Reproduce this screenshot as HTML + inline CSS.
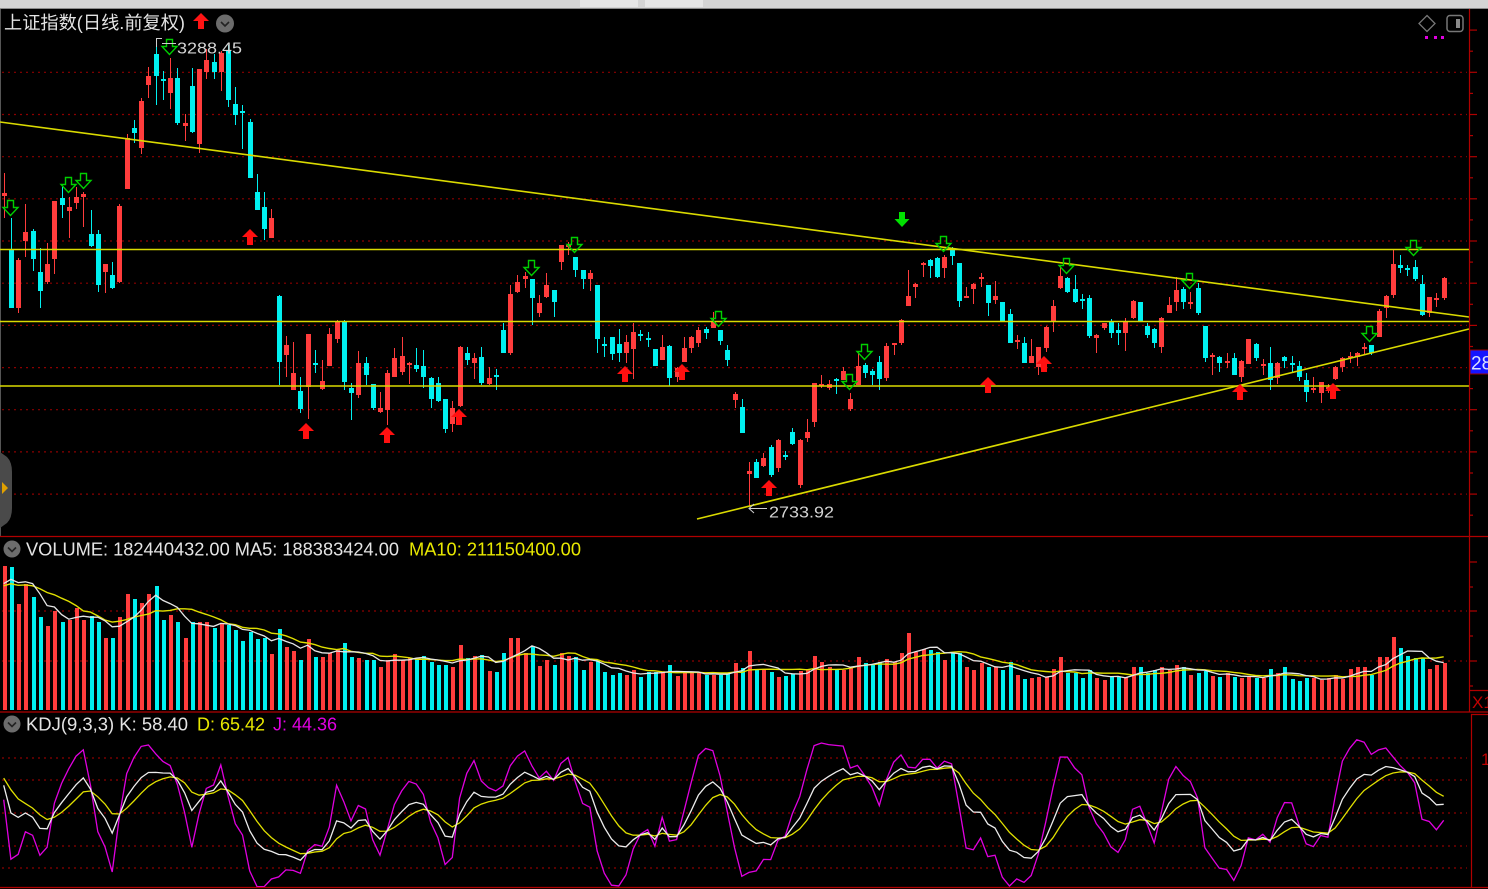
<!DOCTYPE html>
<html><head><meta charset="utf-8"><style>
html,body{margin:0;padding:0;background:#000;overflow:hidden}
svg{display:block}
text{font-family:"Liberation Sans","Noto Sans CJK SC",sans-serif}
</style></head><body>
<svg id="s" width="1488" height="889" viewBox="0 0 1488 889" xmlns="http://www.w3.org/2000/svg">
<defs>
<clipPath id="kc"><rect x="0" y="713" width="1469" height="174"/></clipPath>
<clipPath id="mc"><rect x="0" y="9" width="1469" height="527"/></clipPath>
</defs>
<rect width="1488" height="889" fill="#000"/>
<!-- top bar -->
<rect x="0" y="0" width="1488" height="8" fill="#d4d4d4"/>
<rect x="580" y="0" width="58" height="7" fill="#e6e6e6"/>
<rect x="645" y="0" width="58" height="7" fill="#e6e6e6"/>
<line x1="0" y1="8.5" x2="1488" y2="8.5" stroke="#8a8a8a" stroke-width="1"/>
<line x1="0.5" y1="9" x2="0.5" y2="536" stroke="#555" stroke-width="1"/>

<g id="grid" stroke="#8c0000" stroke-width="1.2" stroke-dasharray="2 4"></g>
<g id="dyn"></g>

<!-- axes and separators -->
<g stroke="#b00000" stroke-width="1.2" fill="none">
<line x1="1469.5" y1="9" x2="1469.5" y2="712"/>
<line x1="1471.5" y1="714" x2="1471.5" y2="887"/>
<line x1="0" y1="536.5" x2="1488" y2="536.5"/>
<line x1="0" y1="712" x2="1488" y2="712"/>
<line x1="1471" y1="714.5" x2="1488" y2="714.5"/>
<line x1="0" y1="887.5" x2="1488" y2="887.5"/>
<line x1="1469" y1="690.5" x2="1488" y2="690.5"/>
</g>
<g id="ticks" stroke="#b00000" stroke-width="1.2"></g>

<!-- left tab -->
<path d="M0,452 L7,457 Q12,462 12,472 L12,508 Q12,518 7,523 L0,528 Z" fill="#4a4a4a"/>
<path d="M2,482 L8,488 L2,494 Z" fill="#e0a000"/>

<!-- header -->
<text x="4" y="29" font-size="18" fill="#e4e4e4" textLength="181" lengthAdjust="spacingAndGlyphs">上证指数(日线.前复权)</text>
<path d="M201,13 L209,21 L204,21 L204,29 L198,29 L198,21 L193,21 Z" fill="#ff1414"/>
<circle cx="225" cy="23.5" r="9" fill="#6c6c6c"/>
<polyline points="221,22 225,26 229,22" fill="none" stroke="#222" stroke-width="1.6"/>

<!-- top right icons -->
<path d="M1427,15.5 L1435,23.5 L1427,31.5 L1419,23.5 Z" fill="none" stroke="#777" stroke-width="1.3"/>
<rect x="1447" y="15.5" width="16" height="16" rx="3" fill="none" stroke="#777" stroke-width="1.5"/>
<rect x="1456" y="19" width="4" height="9" fill="#8a8a8a"/>
<rect x="1425" y="36" width="3" height="3" fill="#e000e0"/>
<rect x="1434" y="36" width="3" height="3" fill="#e000e0"/>
<rect x="1441" y="36" width="3" height="3" fill="#e000e0"/>

<!-- price labels -->
<g stroke="#cfcfcf" stroke-width="1" fill="none">
<polyline points="156.5,47 156.5,38.5 162,38.5"/>
<line x1="162" y1="43.5" x2="176" y2="43.5"/>
<line x1="749" y1="508.5" x2="767" y2="508.5"/>
<polyline points="754,504 749,508.5 754,513"/>
</g>
<text x="177" y="53.5" font-size="16" fill="#d4d4d4" textLength="65" lengthAdjust="spacingAndGlyphs">3288.45</text>
<text x="769" y="517.5" font-size="16" fill="#d4d4d4" textLength="65" lengthAdjust="spacingAndGlyphs">2733.92</text>

<!-- right 28 label -->
<rect x="1470" y="350" width="19" height="24" fill="#1414ff" stroke="#9a0000" stroke-width="1"/>
<text x="1471" y="369.5" font-size="19" fill="#d8e0ff">28</text>
<text x="1472" y="708" font-size="17" fill="#c00000">X1</text>
<text x="1481" y="765" font-size="17" fill="#c00000">100</text>

<!-- volume title -->
<circle cx="12" cy="549" r="8.5" fill="#6c6c6c"/>
<polyline points="8,547.5 12,551.5 16,547.5" fill="none" stroke="#222" stroke-width="1.6"/>
<text x="26" y="555.5" font-size="18" fill="#e4e4e4" textLength="373" lengthAdjust="spacingAndGlyphs">VOLUME: 182440432.00 MA5: 188383424.00</text>
<text x="409" y="555.5" font-size="18" fill="#e8e800" textLength="172" lengthAdjust="spacingAndGlyphs">MA10: 211150400.00</text>

<!-- kdj title -->
<circle cx="12" cy="724" r="8.5" fill="#6c6c6c"/>
<polyline points="8,722.5 12,726.5 16,722.5" fill="none" stroke="#222" stroke-width="1.6"/>
<text x="26" y="730.5" font-size="18" fill="#e4e4e4" textLength="162" lengthAdjust="spacingAndGlyphs">KDJ(9,3,3) K: 58.40</text>
<text x="197" y="730.5" font-size="18" fill="#e8e800" textLength="68" lengthAdjust="spacingAndGlyphs">D: 65.42</text>
<text x="273" y="730.5" font-size="18" fill="#e000e0" textLength="64" lengthAdjust="spacingAndGlyphs">J: 44.36</text>
</svg>
<script>
(function(){
var C=[
[1,193,196,173,218],[0,249,308,218,308],[1,260,308,258,313],[1,232,241,204,257],[0,231,259,229,271],[0,272,291,248,308],[1,264,282,243,284],[1,201,259,201,274],[0,198,205,187,218],[1,207,211,197,238],
[1,197,203,187,209],[1,194,197,192,227],[0,234,246,210,247],[0,234,285,230,292],[1,264,272,264,293],[0,275,288,262,289],[1,206,282,204,283],[1,138,189,134,189],[0,128,133,120,143],[1,101,148,98,154],
[1,76,85,67,98],[0,54,76,44,105],[0,79,81,71,100],[1,78,93,58,109],[0,78,123,68,125],[1,123,126,114,141],[0,86,132,68,133],[1,69,144,69,153],[1,60,72,49,79],[0,62,72,54,79],
[1,53,72,51,91],[0,50,100,45,107],[0,104,115,87,125],[0,111,113,105,149],[0,122,178,119,178],[0,192,210,174,210],[0,207,229,192,240],[1,218,238,209,238],[0,296,362,295,385],[1,345,355,336,377],
[1,373,390,342,390],[0,391,409,377,413],[1,334,387,334,419],[0,363,365,350,373],[1,381,389,360,390],[1,334,366,328,366],[1,321,339,320,343],[0,322,382,320,390],[0,388,393,383,420],[1,363,395,351,398],
[0,363,375,357,385],[0,384,408,384,410],[1,408,412,392,413],[1,373,410,370,425],[1,358,377,348,377],[1,356,372,337,375],[1,363,365,362,384],[0,365,369,348,372],[0,366,377,350,388],[0,378,399,377,408],
[0,383,401,377,402],[0,399,429,399,433],[1,408,424,401,432],[1,347,406,346,407],[0,353,360,347,365],[1,358,363,353,379],[0,357,383,347,385],[1,378,384,367,385],[0,375,377,369,390],[0,330,353,323,353],
[1,294,353,285,355],[1,282,292,275,293],[1,276,279,272,288],[0,279,298,279,325],[1,303,313,295,317],[1,285,297,273,298],[0,290,302,290,317],[1,245,262,245,270],[1,245,247,242,255],[0,257,270,257,277],
[0,270,279,270,289],[1,273,279,270,291],[0,285,339,285,353],[0,344,346,337,357],[0,337,354,337,360],[0,344,353,329,362],[1,342,353,335,363],[1,332,349,323,379],[0,334,336,330,341],[0,338,340,332,347],
[0,349,366,349,366],[1,347,360,335,360],[0,346,378,345,386],[1,368,377,367,382],[1,348,362,337,362],[1,337,348,336,353],[1,330,343,327,347],[0,329,333,327,339],[1,322,328,312,328],[0,330,341,330,345],
[0,350,360,345,366],[1,394,400,392,408],[0,407,433,399,433],[1,471,474,462,507],[0,462,478,459,478],[1,458,466,453,467],[0,447,475,445,477],[1,440,468,439,472],[0,455,457,451,460],[0,432,444,428,445],
[1,440,485,439,488],[1,432,438,419,442],[1,383,422,383,427],[1,384,386,375,388],[1,384,388,380,390],[0,379,381,378,394],[1,371,380,367,380],[1,399,409,393,411],[1,366,385,353,385],[0,365,373,363,378],
[0,371,375,369,385],[0,362,379,356,390],[1,346,378,343,381],[1,343,345,343,355],[1,320,343,319,345],[1,296,306,270,306],[1,284,287,283,298],[1,263,265,262,277],[0,260,266,259,278],[0,258,277,257,278],
[1,257,268,255,278],[0,249,256,247,265],[0,263,301,263,307],[1,296,298,287,298],[1,284,289,283,304],[1,277,279,273,287],[0,285,303,285,316],[1,296,300,281,304],[0,302,321,302,321],[0,314,343,309,343],
[1,340,342,335,349],[0,343,363,337,363],[1,356,363,339,363],[1,347,367,347,375],[1,327,348,326,352],[1,306,321,300,332],[1,276,288,267,289],[0,278,292,277,293],[0,289,302,275,303],[0,299,301,294,309],
[0,298,336,295,338],[1,335,338,334,353],[1,323,328,323,330],[0,321,333,319,338],[0,330,333,323,345],[1,322,333,318,351],[1,301,318,300,319],[0,302,322,302,322],[0,326,335,323,338],[0,329,343,328,348],
[1,318,347,317,353],[1,305,313,297,313],[1,290,302,277,311],[0,289,302,287,309],[1,302,304,292,309],[0,288,313,283,315],[0,326,358,326,362],[1,355,357,353,375],[0,357,363,356,372],[1,361,363,353,368],
[0,358,375,353,375],[1,361,377,360,382],[1,339,364,339,364],[0,344,358,343,361],[1,364,366,359,375],[0,363,380,347,390],[1,363,378,362,384],[0,357,361,356,368],[0,363,365,356,372],[0,366,377,361,381],
[0,380,392,373,402],[1,388,390,377,393],[1,382,393,382,403],[1,387,389,384,393],[1,367,379,366,380],[1,358,367,357,372],[1,356,358,352,363],[1,353,357,352,366],[1,347,349,343,355],[0,345,353,345,355],
[1,311,337,309,337],[1,296,308,295,318],[1,264,295,250,298],[0,265,268,255,273],[0,268,270,265,276],[0,267,279,260,281],[0,284,315,275,316],[1,297,313,297,317],[1,298,300,293,307],[1,278,298,277,300]
];
var V=[566,567,604,584,597,617,626,611,622,620,608,620,616,622,638,638,617,594,599,603,594,586,620,615,622,638,622,622,
622,628,623,625,630,641,632,639,638,654,
629,647,651,660,639,657,657,653,649,643,
657,658,660,660,667,660,654,660,658,659,
656,662,665,665,667,645,658,656,655,671,
672,653,638,638,653,647,666,660,665,653,
656,657,670,662,660,672,675,673,675,670,
677,672,672,672,665,676,673,673,673,675,
675,675,673,663,668,651,670,670,672,677,
676,674,671,669,656,662,667,670,670,667,
657,663,665,662,659,662,653,633,652,649,
650,652,660,653,653,667,670,663,667,667,
670,662,675,679,678,677,677,669,657,673,
673,678,670,678,680,677,677,677,667,667,
673,670,667,670,665,667,675,673,671,676,
677,673,677,678,677,678,678,669,673,667,
679,681,678,678,680,678,675,679,669,667,
667,675,657,657,637,648,656,658,658,669,
665,663];
var RED="#ff3c3c",CY="#00f0f0";
function X(i){return 3.7+7.236*i;}
var N=C.length,o="";
// grid
var g="";
for(var k=0;k<=10;k++){var y=(72.3+42.18*k).toFixed(1);g+='<line x1="2" y1="'+y+'" x2="1467" y2="'+y+'"/>';}
[611,661].forEach(function(y){g+='<line x1="2" y1="'+y+'" x2="1467" y2="'+y+'"/>';});
[758,780,813,846,868].forEach(function(y){g+='<line x1="2" y1="'+y+'" x2="1467" y2="'+y+'"/>';});
document.getElementById("grid").innerHTML=g;
// ticks
var t="";
for(var k=-1;k<=10;k++){var y=72.3+42.18*k;if(y>10)t+='<line x1="1469" y1="'+y.toFixed(1)+'" x2="1477" y2="'+y.toFixed(1)+'"/>';var m=y+21.09;if(m<536)t+='<line x1="1469" y1="'+m.toFixed(1)+'" x2="1473" y2="'+m.toFixed(1)+'"/>';}
[562,611,661].forEach(function(y){t+='<line x1="1469" y1="'+y+'" x2="1477" y2="'+y+'"/>';});
[587,636,686].forEach(function(y){t+='<line x1="1469" y1="'+y+'" x2="1473" y2="'+y+'"/>';});
document.getElementById("ticks").innerHTML=t;
// candles
o+='<g clip-path="url(#mc)">';
for(var i=0;i<N;i++){var c=C[i],x=Math.round(X(i)),col=c[0]?RED:CY;
o+='<rect x="'+x+'" y="'+c[3]+'" width="1" height="'+Math.max(c[4]-c[3],1)+'" fill="'+col+'"/>';
var h=Math.max(c[2]-c[1],1.5);
o+='<rect x="'+(x-2)+'" y="'+c[1]+'" width="5" height="'+h+'" fill="'+col+'"/>';}
o+='</g>';
// yellow lines
o+='<g stroke="#dada00" stroke-width="1.6" fill="none">';
o+='<line x1="0" y1="122" x2="1469" y2="317"/>';
o+='<line x1="0" y1="249.5" x2="1469" y2="249.5"/>';
o+='<line x1="0" y1="321.5" x2="1469" y2="321.5"/>';
o+='<line x1="0" y1="386" x2="1469" y2="386"/>';
o+='<line x1="697" y1="519" x2="1469" y2="329"/>';
o+='</g>';
// volume bars
for(var i=0;i<N&&i<V.length;i++){var x=Math.round(X(i)),col=C[i][0]?RED:CY;
o+='<rect x="'+(x-1)+'" y="'+V[i]+'" width="4" height="'+(710-V[i])+'" fill="'+col+'"/>';}
// volume MAs
var H=V.map(function(v){return 710-v;});var all=[];for(var k=0;k<9;k++)all.push(122);all=all.concat(H);
function ma(n){var p=[];for(var i=0;i<H.length;i++){var s=0;for(var k=0;k<n;k++)s+=all[i+9-k];p.push(X(i).toFixed(1)+","+(710-s/n).toFixed(1));}return p.join(" ");}
o+='<polyline points="'+ma(10)+'" fill="none" stroke="#e0e000" stroke-width="1.4"/>';
o+='<polyline points="'+ma(5)+'" fill="none" stroke="#e6e6e6" stroke-width="1.3"/>';
// KDJ
var K=85,D=85,kp=[],dp=[],jp=[];
for(var i=0;i<N;i++){var lo=-1e9,hi=1e9;for(var j=Math.max(0,i-8);j<=i;j++){lo=Math.max(lo,C[j][4]);hi=Math.min(hi,C[j][3]);}
var cy=C[i][0]?C[i][1]:C[i][2];var rsv=lo>hi?(lo-cy)/(lo-hi)*100:50;
K=(2*K+rsv)/3;D=(2*D+K)/3;var J=3*K-2*D;var x=X(i).toFixed(1);
kp.push(x+","+(868-K*1.1).toFixed(1));dp.push(x+","+(868-D*1.1).toFixed(1));jp.push(x+","+(868-J*1.1).toFixed(1));}
o+='<g clip-path="url(#kc)" fill="none">';
o+='<polyline points="'+jp.join(" ")+'" stroke="#e000e0" stroke-width="1.3"/>';
o+='<polyline points="'+dp.join(" ")+'" stroke="#e0e000" stroke-width="1.3"/>';
o+='<polyline points="'+kp.join(" ")+'" stroke="#ececec" stroke-width="1.3"/>';
o+='</g>';
// arrows
var GA=[[10,200],[68,177],[83,173],[169,39],[531,260],[574,237],[718,311],[864,344],[849,374],[943,236],[1066,258],[1189,273],[1369,326],[1413,240]];
var RA=[[250,229],[306,423],[387,427],[459,409],[625,366],[682,364],[769,480],[988,377],[1044,356],[1240,384],[1333,383]];
function down(cx,ty){return (cx-3)+","+ty+" "+(cx+3)+","+ty+" "+(cx+3)+","+(ty+7)+" "+(cx+7.5)+","+(ty+7)+" "+cx+","+(ty+15)+" "+(cx-7.5)+","+(ty+7)+" "+(cx-3)+","+(ty+7);}
function up(cx,ty){return cx+","+ty+" "+(cx+8)+","+(ty+8)+" "+(cx+3)+","+(ty+8)+" "+(cx+3)+","+(ty+16)+" "+(cx-3)+","+(ty+16)+" "+(cx-3)+","+(ty+8)+" "+(cx-8)+","+(ty+8);}
GA.forEach(function(a){o+='<polygon points="'+down(a[0]+0.5,a[1]+0.5)+'" fill="none" stroke="#00d000" stroke-width="1.4"/>';});
o+='<polygon points="'+down(902,212)+'" fill="#00e000"/>';
RA.forEach(function(a){o+='<polygon points="'+up(a[0],a[1])+'" fill="#ff1010"/>';});
document.getElementById("dyn").innerHTML=o;
})();
</script>
</body></html>
